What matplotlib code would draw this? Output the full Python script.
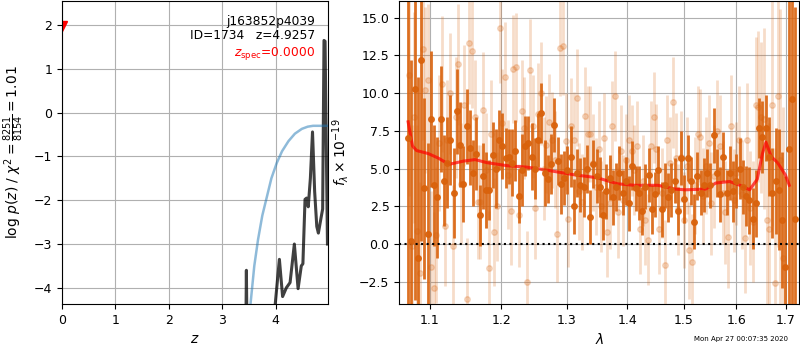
import numpy as np
import matplotlib
matplotlib.use('Agg')
import matplotlib.pyplot as plt
from matplotlib.ticker import FormatStrFormatter, NullLocator

# p(z) curve (left panel)
z_grid = [3.40, 3.445, 3.452, 3.46, 3.60, 3.90, 3.99, 4.07, 4.13, 4.20, 4.27, 4.35,
          4.42, 4.48, 4.51, 4.55, 4.58, 4.61, 4.65, 4.69, 4.73, 4.77, 4.80, 4.85,
          4.88, 4.905, 4.925, 4.97]
log_pz = [-6.0, -4.6, -3.6, -4.6, -7.0, -6.0, -4.4, -3.35, -4.2, -4.0, -3.88, -3.0,
          -4.02, -3.5, -3.45, -1.98, -1.95, -2.15, -1.5, -0.44, -1.8, -2.6, -2.75, -2.4,
          -2.2, 1.65, 1.63, -3.0]

# cumulative curve
z_cdf = [3.50, 3.53, 3.60, 3.67, 3.75, 3.83, 3.92, 4.02, 4.12, 4.24, 4.36, 4.49,
         4.60, 4.70, 4.98]
log_cdf = [-4.9, -4.36, -3.5, -2.9, -2.35, -1.95, -1.5, -1.15, -0.88, -0.65, -0.48,
           -0.37, -0.32, -0.30, -0.30]

z_spec = 0.0
z_best = 4.9257
obj_id = 1734
root = 'j163852p4039'
chi2_num, chi2_den = 8251, 8154

# binned G141 spectrum
flux_dark = [7.0, 0.2, 10.3, -0.9, 12.2, 3.7, 0.7, 8.3, 3.9, 3.1,
             8.3, 4.2, 5.4, 6.9, 3.4, 8.8, 6.6, 4.0, 7.8, 6.4,
             4.7, 6.0, 1.9, 4.5, 3.6, 3.6, 5.9, 5.0, 6.9, 6.5,
             5.7, 5.8, 5.4, 6.2, 3.2, 4.9, 6.5, 6.7, 5.8, 5.0,
             6.9, 8.7, 4.7, 4.3, 5.3, 7.9, 5.5, 4.0, 4.4, 4.9,
             5.8, 2.5, 4.7, 3.9, 3.8, 5.0, 1.8, 5.3, 4.5, 3.8,
             1.9, 3.5, 4.4, 3.1, 3.8, 4.7, 3.4, 4.2, 2.7, 5.2,
             3.7, 3.4, 2.2, 3.8, 4.6, 2.3, 3.3, 4.9, 2.3, 3.9,
             3.1, 3.6, 4.2, 2.2, 5.7, 3.0, 5.7, 4.2, 1.5, 4.5,
             3.4, 3.9, 4.7, 3.9, 7.2, 4.7, 3.3, 5.8, 3.4, 4.7,
             3.5, 4.2, 5.0, 3.8, 3.2, 2.9, 1.7, 2.7, 7.7, 7.1,
             7.7, 5.8, 3.4, 4.2, 3.6, 1.6, -1.5, 6.3, 9.6, 1.7]
err_dark = [14, 12, 14, 12, 12, 6, 6, 4.5, 4, 4,
            3.5, 3, 3, 3, 3, 2.8, 2.8, 2.5, 2.5, 2.5,
            2.2, 2.4, 2.0, 2.2, 2.5, 2.0, 2.2, 2.6, 2.0, 2.2,
            2.0, 1.8, 2.2, 2.0, 1.8, 2.4, 2.0, 1.8, 2.2, 2.0,
            1.8, 2.0, 2.2, 1.6, 2.0, 1.8, 1.6, 2.0, 1.8, 1.6,
            2.0, 1.8, 1.6, 1.8, 2.0, 1.6, 1.8, 1.6, 1.8, 2.0,
            1.6, 1.8, 1.5, 1.8, 1.6, 1.8, 1.5, 1.6, 1.8, 1.6,
            1.5, 1.8, 1.6, 1.5, 1.8, 1.6, 1.5, 1.6, 1.8, 1.5,
            1.6, 1.8, 1.5, 1.6, 1.8, 1.6, 1.5, 1.6, 1.8, 1.6,
            1.5, 1.8, 1.6, 1.5, 1.8, 1.6, 1.8, 1.6, 1.5, 1.8,
            2.0, 1.8, 2.0, 1.8, 2.0, 2.2, 2.0, 2.2, 2.0, 2.4,
            2.2, 2.6, 3.0, 3.5, 4.0, 4.5, 6.0, 14, 14, 14]
wave_dark = np.geomspace(1.071, 1.719, len(flux_dark))

# unbinned spectrum
flux_light = [11.2, -0.1, 8.4, 0.9, -1.9, 12.9, 10.2, 10.9, -1.5, -2.9,
              0.6, 6.7, 10.6, 1.2, 6.9, 10.0, -0.1, 8.4, 11.9, 4.0,
              9.2, -3.6, 13.3, 12.8, 8.4, 2.8, 2.8, 8.9, 4.9, -1.6,
              7.3, 0.8, 2.5, 14.3, 8.0, 11.1, 4.6, 2.2, 11.6, 11.7,
              1.9, 8.8, 7.7, -2.5, 11.5, 7.8, 2.4, 8.6, 10.0, 5.0,
              6.6, 8.1, 6.9, 5.6, 0.7, 13.0, 13.1, 6.8, 1.7, 7.8,
              6.9, 9.7, 3.5, 2.8, 8.5, 7.3, 7.3, 5.4, 3.8, 6.3,
              2.5, 7.0, 0.8, 2.7, 7.8, 9.8, 2.1, 6.2, 2.9, 5.6,
              6.9, 6.2, 4.9, 6.5, 1.0, 4.2, 1.6, 0.3, 6.5, 8.4,
              6.3, 1.0, 3.4, -1.4, 6.9, 5.4, 9.4, 5.7, 2.3, 5.8,
              1.6, 5.2, -0.4, -1.2, 3.9, 7.3, 7.1, 3.2, 5.2, 6.7,
              2.7, 4.5, 7.5, 6.5, 3.4, 2.1, 0.5, 7.8, 2.9, 4.7,
              6.9, 3.3, 0.4, 6.9, 2.4, 1.5, 9.2, 9.1, 8.4, 8.3,
              1.6, 1.0, 9.2, -2.6, 9.8, 5.6, -0.9]
err_light = [8, 8, 7, 7, 6, 6, 5.5, 5, 5, 5,
             4.5, 4.5, 4.5, 4, 4, 4, 4, 4, 4, 4,
             4, 4, 4, 3.8, 3.8, 3.8, 3.8, 3.8, 3.8, 3.8,
             3.6, 3.6, 3.6, 3.6, 3.6, 3.6, 3.6, 3.6, 3.6, 3.6,
             3.4, 3.4, 3.4, 3.4, 3.4, 3.4, 3.4, 3.4, 3.4, 3.4,
             3.2, 3.2, 3.2, 3.2, 3.2, 3.2, 3.2, 3.2, 3.2, 3.2,
             3.2, 3.2, 3.2, 3.2, 3.2, 3.2, 3.2, 3.2, 3.2, 3.2,
             3.0, 3.0, 3.0, 3.0, 3.0, 3.0, 3.0, 3.0, 3.0, 3.0,
             3.0, 3.0, 3.0, 3.0, 3.0, 3.0, 3.0, 3.0, 3.0, 3.0,
             3.0, 3.0, 3.0, 3.0, 3.0, 3.0, 3.0, 3.0, 3.0, 3.0,
             3.2, 3.2, 3.2, 3.2, 3.2, 3.2, 3.2, 3.2, 3.2, 3.2,
             3.4, 3.4, 3.4, 3.4, 3.4, 3.4, 3.4, 3.4, 3.4, 3.4,
             3.6, 3.6, 3.6, 3.8, 3.8, 4.0, 4.5, 5, 5, 6,
             6, 7, 8, 9, 10, 10, 10]
wave_light = np.geomspace(1.072, 1.694, len(flux_light))

# best-fit template
wave_model = [1.071, 1.0768, 1.0822, 1.0977, 1.1113, 1.1217, 1.1272, 1.1459, 1.1624,
              1.1792, 1.2085, 1.2385, 1.2693, 1.3113, 1.3497, 1.3835, 1.4122, 1.4538,
              1.4843, 1.5029, 1.5410, 1.5604, 1.5869, 1.6071, 1.6262, 1.6414, 1.6519,
              1.6590, 1.6697, 1.6827, 1.6987, 1.707]
flux_model = [8.1, 6.5, 6.2, 6.0, 5.7, 5.4, 5.3, 5.5, 5.6, 5.4, 5.2, 5.1, 4.9, 4.6,
              4.4, 4.0, 3.9, 3.9, 3.65, 3.6, 3.65, 4.05, 4.15, 3.9, 3.6, 4.3, 6.0,
              6.75, 5.8, 5.4, 4.6, 3.9]

g141_color = '#d9620c'

fig = plt.figure(figsize=(8, 3.5), dpi=100)
ax = fig.add_axes([0.0775, 0.1314, 0.3325, 0.8657])

ax.plot(z_grid, log_pz, color='k', alpha=0.75, linewidth=2.2)
ax.plot(z_cdf, log_cdf, color='#1f77b4', alpha=0.5, linewidth=1.8)
ax.plot(z_spec, 1.97, marker='v', color='r', markersize=7, linestyle='none')

ax.text(0.95, 0.955, '{0}\nID={1}   z={2:.4f}'.format(root, obj_id, z_best),
        ha='right', va='top', transform=ax.transAxes, fontsize=8.8, linespacing=1.15)
ax.text(0.95, 0.828, r'$z_\mathrm{spec}$' + '={0:.4f}'.format(z_spec), color='r',
        ha='right', va='center', transform=ax.transAxes, fontsize=8.8)

ax.set_xlim(0, 4.98)
ax.set_ylim(-4.37, 2.55)
ax.set_xticks([0, 1, 2, 3, 4])
ax.set_yticks([-4, -3, -2, -1, 0, 1, 2])
ax.grid()
ax.tick_params(labelsize=9)
ax.set_xlabel(r'$z$', fontsize=10)
ax.set_ylabel(r'log $p(z)$ / $\chi^2=\frac{' + str(chi2_num) + '}{' + str(chi2_den) +
              '}=' + '{0:.2f}'.format(chi2_num / chi2_den) + '$', fontsize=10)
ax.yaxis.set_label_coords(-0.135, 0.5)

# spectrum panel
ax2 = fig.add_axes([0.4991, 0.1314, 0.5, 0.8657])
ax2.errorbar(wave_light, flux_light, yerr=err_light, fmt='o', color=g141_color,
             alpha=0.22, markersize=4, elinewidth=2, capsize=0)
ax2.errorbar(wave_dark, flux_dark, yerr=err_dark, fmt='o', color=g141_color,
             alpha=0.9, markersize=4, elinewidth=2, capsize=0)
ax2.plot(wave_model, flux_model, color='r', alpha=0.7, linewidth=2.2)
ax2.axhline(0, color='k', linestyle=':', linewidth=1.5)

ax2.set_xscale('log')
ax2.set_xlim(1.0595, 1.728)
ax2.set_ylim(-3.96, 16.1)
ax2.set_xticks([1.1, 1.2, 1.3, 1.4, 1.5, 1.6, 1.7])
ax2.xaxis.set_major_formatter(FormatStrFormatter('%.1f'))
ax2.xaxis.set_minor_locator(NullLocator())
ax2.grid()
ax2.tick_params(labelsize=9)
ax2.set_xlabel(r'$\lambda$', fontsize=10)
ax2.set_ylabel(r'$f_\lambda \times 10^{-19}$', fontsize=10)
ax2.yaxis.set_label_coords(-0.12, 0.5)

fig.text(0.985, 0.031, 'Mon Apr 27 00:07:35 2020', ha='right', va='center', fontsize=5)

fig.savefig('out.png', dpi=100)
